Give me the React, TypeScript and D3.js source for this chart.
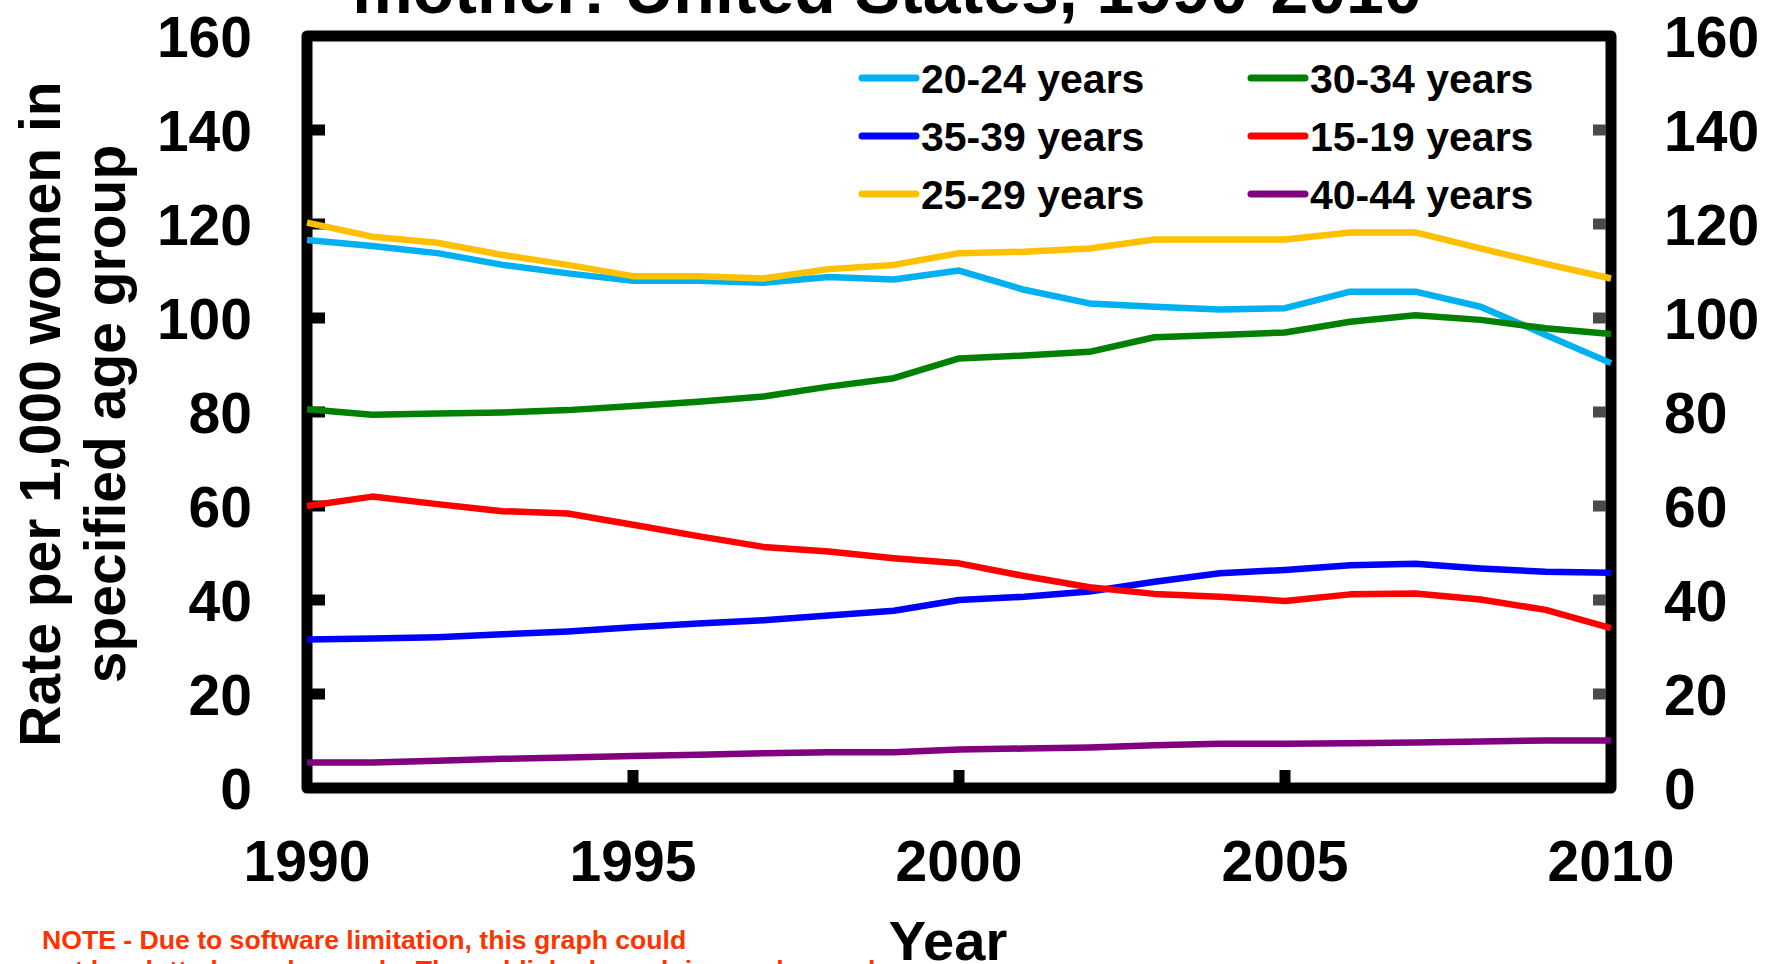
import React from "react";
import * as d3 from "d3";

const years = [1990, 1991, 1992, 1993, 1994, 1995, 1996, 1997, 1998, 1999, 2000, 2001, 2002, 2003, 2004, 2005, 2006, 2007, 2008, 2009, 2010];

const rate15_19 = [60.0, 62.0, 60.4, 58.9, 58.4, 56.0, 53.6, 51.3, 50.3, 48.9, 47.8, 45.1, 42.7, 41.3, 40.7, 39.8, 41.2, 41.4, 40.1, 37.9, 34.0];
const rate20_24 = [116.6, 115.3, 113.8, 111.3, 109.5, 107.9, 107.9, 107.5, 108.7, 108.2, 110.1, 106.0, 103.1, 102.4, 101.8, 102.1, 105.6, 105.6, 102.4, 96.4, 90.4];
const rate25_29 = [120.3, 117.3, 116.0, 113.4, 111.3, 108.9, 108.9, 108.4, 110.4, 111.3, 113.8, 114.1, 114.8, 116.7, 116.7, 116.7, 118.2, 118.2, 114.8, 111.5, 108.4];
const rate30_34 = [80.6, 79.4, 79.7, 79.9, 80.4, 81.3, 82.2, 83.3, 85.4, 87.2, 91.4, 92.0, 92.8, 95.9, 96.4, 96.9, 99.2, 100.6, 99.6, 97.8, 96.6];
const rate35_39 = [31.6, 31.8, 32.1, 32.7, 33.3, 34.2, 35.0, 35.7, 36.7, 37.7, 40.0, 40.7, 41.8, 43.9, 45.7, 46.4, 47.4, 47.7, 46.7, 46.0, 45.8];
const rate40_44 = [5.4, 5.4, 5.8, 6.2, 6.5, 6.8, 7.1, 7.4, 7.6, 7.6, 8.2, 8.4, 8.6, 9.1, 9.4, 9.4, 9.5, 9.7, 9.9, 10.1, 10.1];

const seriesNames = ["20-24 years", "30-34 years", "35-39 years", "15-19 years", "25-29 years", "40-44 years"];
const seriesColors = ["#00B0F0", "#008000", "#0000FF", "#FF0000", "#FFC000", "#800080"];
const seriesValues = [rate20_24, rate30_34, rate35_39, rate15_19, rate25_29, rate40_44];

const yTicks = [0, 20, 40, 60, 80, 100, 120, 140, 160];
const xTicks = [1990, 1995, 2000, 2005, 2010];

const titleText = "mother: United States, 1990-2010";
const yTitle1 = "Rate per 1,000 women in";
const yTitle2 = "specified age group";
const xTitle = "Year";
const noteLine1 = "NOTE - Due to software limitation, this graph could";
const noteLine2 = "not be plotted on a log scale. The published graph is on a log scale.";

const W = 1779;
const H = 964;
const L = 307, R = 1611, T = 36, B = 788;
const FONT = "'Liberation Sans', Arial, sans-serif";

export default function App() {
  const x = d3.scaleLinear().domain([1990, 2010]).range([L, R]);
  const y = d3.scaleLinear().domain([0, 160]).range([B, T]);
  const line = d3
    .line<number>()
    .x((_, i) => x(years[i]))
    .y((d) => y(d));

  const innerTicks = yTicks.filter((v) => v > 0 && v < 160);
  const innerX = xTicks.filter((v) => v > 1990 && v < 2010);

  const legendCols = [862, 1251];
  const legendRows = [78, 136, 194];

  return (
    <svg
      width={W}
      height={H}
      viewBox={`0 0 ${W} ${H}`}
      style={{ position: "absolute", left: 0, top: 0, background: "#fff" }}
      fontFamily={FONT}
      fontWeight="bold"
    >
      <rect x={0} y={0} width={W} height={H} fill="#fff" />
      {/* title (clipped at top) */}
      <text x={887} y={13} fontSize={68} textAnchor="middle" fill="#000">
        {titleText}
      </text>

      {/* frame */}
      <rect x={L} y={T} width={R - L} height={B - T} fill="none" stroke="#000" strokeWidth={11} strokeLinejoin="round" />

      {/* left ticks */}
      {innerTicks.map((v) => (
        <rect key={"lt" + v} x={L + 5} y={y(v) - 5.5} width={13} height={11} fill="#000" />
      ))}
      {/* right ticks */}
      {innerTicks.map((v) => (
        <rect key={"rt" + v} x={R - 18} y={y(v) - 5.5} width={13} height={11} fill="#4a4a4a" />
      ))}
      {/* bottom ticks */}
      {innerX.map((v) => (
        <rect key={"bt" + v} x={x(v) - 5.5} y={B - 18} width={11} height={13} fill="#000" />
      ))}

      {/* y tick labels */}
      {yTicks.map((v) => (
        <text key={"yl" + v} x={252} y={y(v)} dy="0.36em" fontSize={57} textAnchor="end" fill="#000">
          {v}
        </text>
      ))}
      {yTicks.map((v) => (
        <text key={"yr" + v} x={1664} y={y(v)} dy="0.36em" fontSize={57} textAnchor="start" fill="#000">
          {v}
        </text>
      ))}

      {/* x tick labels */}
      {xTicks.map((v) => (
        <text key={"xl" + v} x={x(v)} y={881} fontSize={57} textAnchor="middle" fill="#000">
          {v}
        </text>
      ))}

      {/* axis titles */}
      <text x={948} y={960} fontSize={56} textAnchor="middle" fill="#000">
        {xTitle}
      </text>
      <text transform={`translate(60,414) rotate(-90)`} fontSize={57} textAnchor="middle" fill="#000">
        {yTitle1}
      </text>
      <text transform={`translate(125,414) rotate(-90)`} fontSize={57} textAnchor="middle" fill="#000">
        {yTitle2}
      </text>

      {/* data lines */}
      {seriesValues.map((vals, i) => (
        <path
          key={"s" + i}
          d={line(vals) || ""}
          fill="none"
          stroke={seriesColors[i]}
          strokeWidth={6.5}
          strokeLinejoin="round"
        />
      ))}

      {/* legend */}
      {seriesNames.map((name, i) => {
        const col = i % 2;
        const row = Math.floor(i / 2);
        const lx = legendCols[col];
        const ly = legendRows[row];
        return (
          <g key={"lg" + i}>
            <line x1={lx} x2={lx + 54} y1={ly} y2={ly} stroke={seriesColors[i]} strokeWidth={7} strokeLinecap="round" />
            <text x={lx + 59} y={ly} dy="0.36em" fontSize={41} fill="#000">
              {name}
            </text>
          </g>
        );
      })}

      {/* note */}
      <text x={42} y={949} fontSize={26.6} fill="#FF3300">
        {noteLine1}
      </text>
      <text x={42} y={979} fontSize={26.6} fill="#FF3300">
        {noteLine2}
      </text>
    </svg>
  );
}
